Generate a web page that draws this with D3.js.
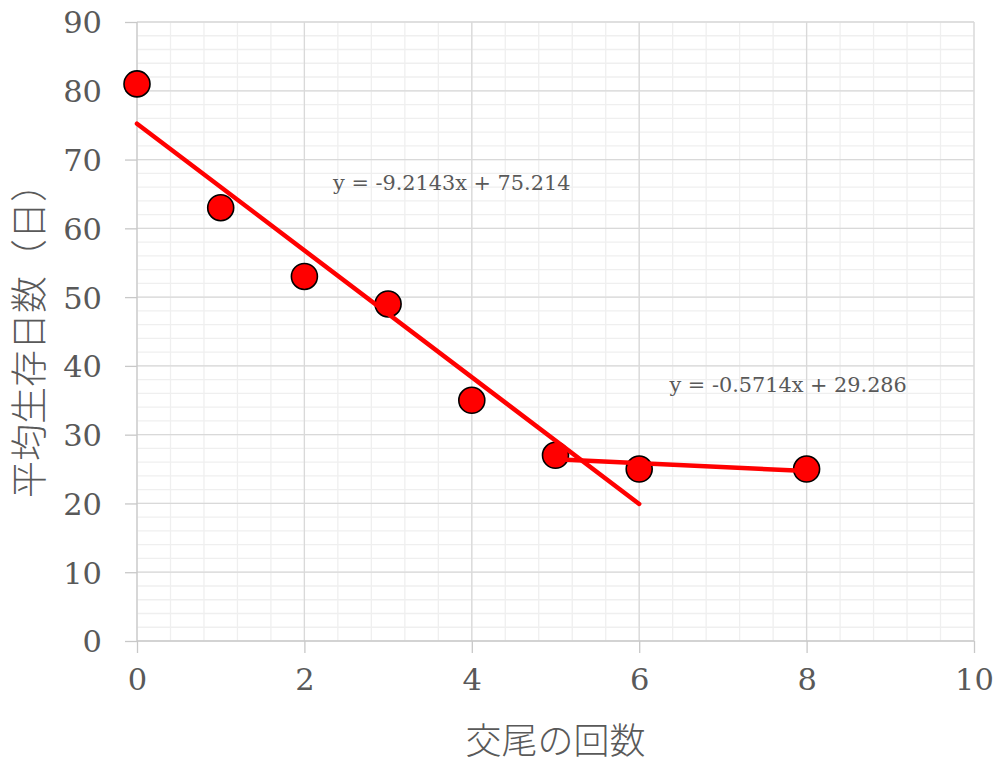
<!DOCTYPE html>
<html>
<head>
<meta charset="utf-8">
<script src="https://cdn.jsdelivr.net/npm/d3@7"></script>
<style>
  html, body { margin: 0; padding: 0; background: #fff; }
  svg { display: block; }
</style>
</head>
<body>
<svg id="chart" width="997" height="763"></svg>
<script>
// Mating count vs. mean survival days
const matingCounts = [0, 1, 2, 3, 4, 5, 6, 8];
const survivalDays = [81, 63, 53, 49, 35, 27, 25, 25];

// Linear trendlines fitted over two ranges
const trendSteep = { slope: -9.2143, intercept: 75.214, from: 0, to: 6 };
const trendFlat  = { slope: -0.5714, intercept: 29.286, from: 5, to: 8 };
const trendLabels = ["y = -9.2143x + 75.214", "y = -0.5714x + 29.286"];
const trendLabelAt = [[3.76, 66.6], [7.78, 37.3]];

const xTicks = [0, 2, 4, 6, 8, 10];
const yTicks = [0, 10, 20, 30, 40, 50, 60, 70, 80, 90];
const xMinor = d3.range(0, 10.001, 0.4);
const yMinor = d3.range(0, 90.001, 2);

const xTitle = "交尾の回数";
const yTitle = "平均生存日数（日）";

const svg = d3.select("#chart");
const x = d3.scaleLinear().domain([0, 10]).range([137, 974]);
const y = d3.scaleLinear().domain([0, 90]).range([641, 22]);

const textColor = "#595959";
const numFont = "'DejaVu Serif', 'Liberation Serif', serif";
const cjkFont = "'Noto Sans CJK JP', 'Noto Sans CJK SC', sans-serif";

// Minor grid
const grid = svg.append("g");
grid.selectAll("line.vmin").data(xMinor).join("line")
  .attr("x1", d => x(d)).attr("x2", d => x(d))
  .attr("y1", y(0)).attr("y2", y(90))
  .attr("stroke", "#efefef").attr("stroke-width", 1.3);
grid.selectAll("line.hmin").data(yMinor).join("line")
  .attr("x1", x(0)).attr("x2", x(10))
  .attr("y1", d => y(d)).attr("y2", d => y(d))
  .attr("stroke", "#efefef").attr("stroke-width", 1.3);

// Major grid
grid.selectAll("line.vmaj").data(xTicks.slice(1)).join("line")
  .attr("x1", d => x(d)).attr("x2", d => x(d))
  .attr("y1", y(0)).attr("y2", y(90))
  .attr("stroke", "#d9d9d9").attr("stroke-width", 1.3);
grid.selectAll("line.hmaj").data(yTicks.slice(1)).join("line")
  .attr("x1", x(0)).attr("x2", x(10))
  .attr("y1", d => y(d)).attr("y2", d => y(d))
  .attr("stroke", "#d9d9d9").attr("stroke-width", 1.3);

// Axes
const xAxis = d3.axisBottom(x).tickValues(xTicks).tickSize(12).tickPadding(18).tickFormat(d3.format("d"));
const yAxis = d3.axisLeft(y).tickValues(yTicks).tickSize(12).tickPadding(22).tickFormat(d3.format("d"));

const gx = svg.append("g").attr("transform", `translate(0,${y(0)})`).call(xAxis);
const gy = svg.append("g").attr("transform", `translate(${x(0)},0)`).call(yAxis);

[gx, gy].forEach(g => {
  g.select(".domain").remove();
  g.selectAll(".tick line").attr("stroke", "#c8c8c8").attr("stroke-width", 1.3);
  g.selectAll(".tick text")
    .attr("fill", textColor)
    .style("font-family", numFont)
    .style("font-size", "30.5px");
});
gx.selectAll(".tick text").attr("y", 38).attr("dy", "0.36em");
gy.selectAll(".tick text").attr("dy", "0.36em").attr("x", -35);

// Axis lines
svg.append("line")
  .attr("x1", x(0)).attr("x2", x(10)).attr("y1", y(0)).attr("y2", y(0))
  .attr("stroke", "#c8c8c8").attr("stroke-width", 1.3);
svg.append("line")
  .attr("x1", x(0)).attr("x2", x(0)).attr("y1", y(0)).attr("y2", y(90))
  .attr("stroke", "#c8c8c8").attr("stroke-width", 1.3);

// Data points
const pts = matingCounts.map((d, i) => ({ x: d, y: survivalDays[i] }));
svg.append("g").selectAll("circle").data(pts).join("circle")
  .attr("cx", d => x(d.x)).attr("cy", d => y(d.y)).attr("r", 13)
  .attr("fill", "#ff0000").attr("stroke", "#000").attr("stroke-width", 1.6);

// Trendlines
const lineGen = d3.line().x(d => x(d[0])).y(d => y(d[1]));
[trendSteep, trendFlat].forEach(t => {
  const seg = [t.from, t.to].map(v => [v, t.slope * v + t.intercept]);
  svg.append("path").attr("d", lineGen(seg))
    .attr("fill", "none").attr("stroke", "#ff0000")
    .attr("stroke-width", 4.5).attr("stroke-linecap", "round");
});

// Trendline equations
svg.append("g").selectAll("text").data(trendLabels).join("text")
  .attr("x", (d, i) => x(trendLabelAt[i][0]))
  .attr("y", (d, i) => y(trendLabelAt[i][1]))
  .attr("text-anchor", "middle").attr("dy", "0.36em")
  .attr("fill", textColor)
  .style("font-family", numFont).style("font-size", "20.8px")
  .text(d => d);

// Axis titles
svg.append("text")
  .attr("x", (x(0) + x(10)) / 2).attr("y", 741)
  .attr("text-anchor", "middle").attr("dy", "0.36em")
  .attr("fill", textColor)
  .style("font-family", cjkFont).style("font-size", "36px").style("font-weight", 300)
  .text(xTitle);

svg.append("text")
  .attr("transform", `translate(30,${(y(0) + y(90)) / 2}) rotate(-90)`)
  .attr("text-anchor", "middle").attr("dy", "0.36em")
  .attr("fill", textColor)
  .style("font-family", cjkFont).style("font-size", "37px").style("font-weight", 300)
  .text(yTitle);
</script>
</body>
</html>
